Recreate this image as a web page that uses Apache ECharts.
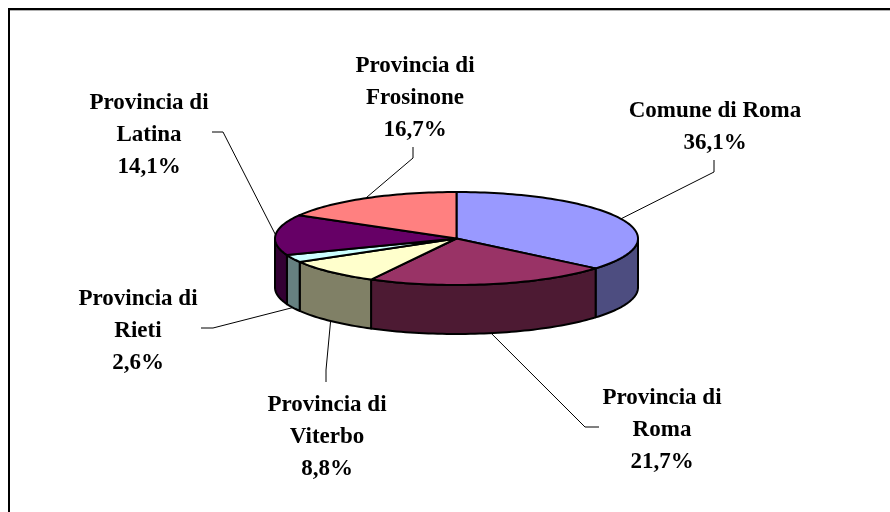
<!DOCTYPE html>
<html>
<head>
<meta charset="utf-8">
<style>html,body{margin:0;padding:0;background:#fff}#c{width:890px;height:512px}</style>
<script src="https://cdn.jsdelivr.net/npm/echarts@6/dist/echarts.min.js"></script>
</head>
<body>
<div id="c"></div>
<script>
// Data
const categories = ['Comune di Roma', 'Provincia di\nRoma', 'Provincia di\nViterbo', 'Provincia di\nRieti', 'Provincia di\nLatina', 'Provincia di\nFrosinone'];
const shares = [36.1, 21.7, 8.8, 2.6, 14.1, 16.7];

// Styles
const topColors = ['#9999FF', '#993366', '#FFFFCC', '#CCFFFF', '#660066', '#FF8080'];
const sideColors = ['#4D4D80', '#4D1A33', '#808066', '#668080', '#330033', '#804040'];

// Layout of the label centres and the leader lines
const labelCentres = [[715, 127], [662, 430], [327, 437], [138, 331], [149, 135], [415, 98]];
const leaderBends = [
  [[714, 172], [714, 160]],
  [[585, 427], [599, 427]],
  [[326, 370], [326, 382]],
  [[213, 328], [201, 328]],
  [[223, 132], [212, 132]],
  [[413, 158], [413, 147]]
];
const pie = { cx: 456.5, cy: 238.5, rx: 181.5, ry: 46.5, depth: 49 };

const total = shares.reduce((a, b) => a + b, 0);
const point = (deg, drop) => {
  const t = deg * Math.PI / 180;
  return [pie.cx + pie.rx * Math.sin(t), pie.cy - pie.ry * Math.cos(t) + (drop || 0)];
};
const arc = (from, to, drop) => {
  const n = Math.max(2, Math.ceil(Math.abs(to - from) / 1.5));
  const out = [];
  for (let i = 0; i <= n; i++) out.push(point(from + (to - from) * i / n, drop));
  return out;
};
const startAngle = i => shares.slice(0, i).reduce((a, b) => a + b, 0) / total * 360;
const edge = { stroke: '#000', lineWidth: 2, lineJoin: 'round' };

function renderItem(params, api) {
  const i = params.dataIndex;
  const a0 = startAngle(i);
  const a1 = a0 + api.value(0) / total * 360;
  const mid = (a0 + a1) / 2;
  const children = [];

  // Outer wall, only where it faces the viewer
  const s0 = Math.max(a0, 90), s1 = Math.min(a1, 270);
  if (s1 > s0) {
    children.push({
      type: 'polygon',
      shape: { points: arc(s0, s1, 0).concat(arc(s1, s0, pie.depth)) },
      style: Object.assign({ fill: sideColors[i] }, edge)
    });
  }
  // Top face
  children.push({
    type: 'polygon',
    shape: { points: [[pie.cx, pie.cy]].concat(arc(a0, a1, 0)) },
    style: Object.assign({ fill: topColors[i] }, edge)
  });
  // Leader line, from the slice's mid angle
  const anchor = point(mid, mid > 90 && mid < 270 ? pie.depth : 0);
  children.push({
    type: 'polyline',
    shape: { points: [anchor].concat(leaderBends[i]) },
    style: { fill: null, stroke: '#000', lineWidth: 1 },
    z2: 5
  });
  // Label
  children.push({
    type: 'text',
    x: labelCentres[i][0],
    y: labelCentres[i][1],
    style: {
      text: categories[i] + '\n' + api.value(0).toFixed(1).replace('.', ',') + '%',
      font: 'bold 23px "Liberation Serif", "Times New Roman", serif',
      fill: '#000',
      align: 'center',
      verticalAlign: 'middle',
      lineHeight: 32
    },
    z2: 6
  });
  return { type: 'group', children };
}

const chart = echarts.init(document.getElementById('c'), null, { renderer: 'canvas' });
chart.setOption({
  animation: false,
  backgroundColor: '#fff',
  graphic: [
    { type: 'rect', shape: { x: 8, y: 8, width: 882, height: 2 }, style: { fill: '#000' } },
    { type: 'rect', shape: { x: 10, y: 10, width: 880, height: 1 }, style: { fill: '#b0b0b0' } },
    { type: 'rect', shape: { x: 8, y: 8, width: 2, height: 504 }, style: { fill: '#000' } }
  ],
  series: [{
    type: 'custom',
    coordinateSystem: 'none',
    silent: true,
    clip: false,
    data: shares.map((v, i) => ({ name: categories[i], value: [v] })),
    renderItem
  }]
});
</script>
</body>
</html>
